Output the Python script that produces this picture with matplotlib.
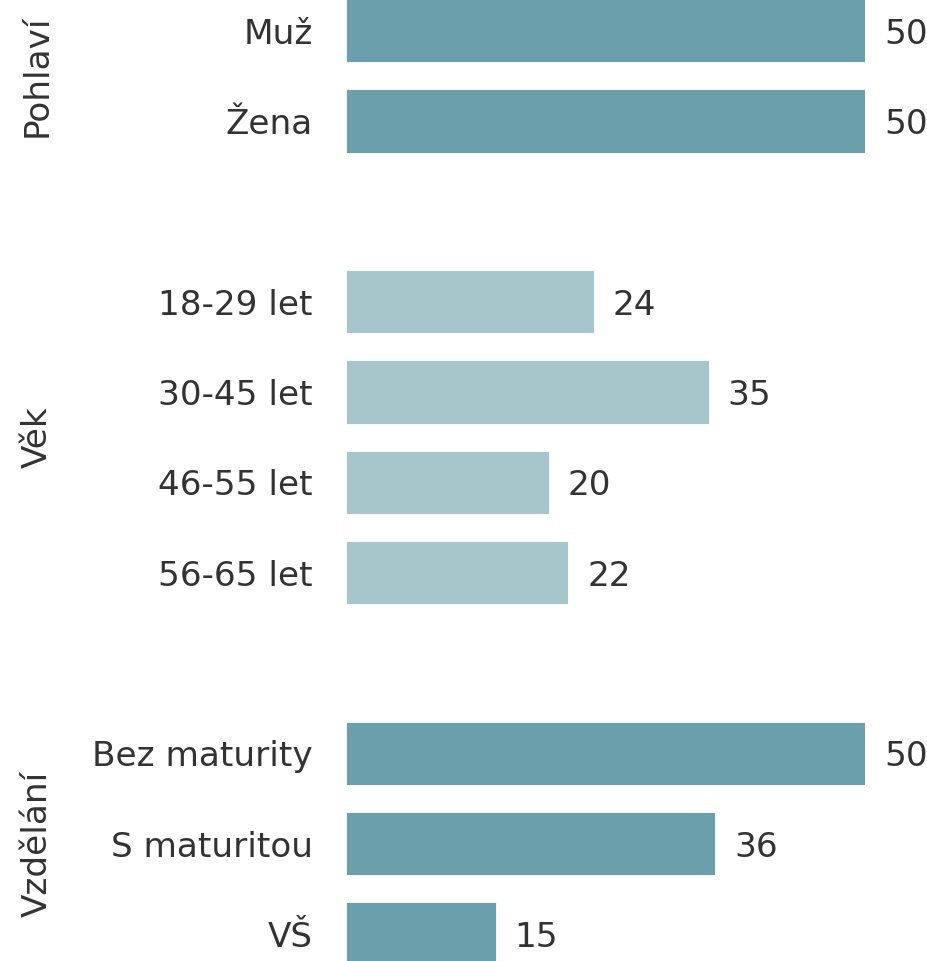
import matplotlib.pyplot as plt
import matplotlib.transforms as mtransforms


categories = ["Muž", "Žena",
              "18-29 let", "30-45 let", "46-55 let", "56-65 let",
              "Bez maturity", "S maturitou", "VŠ"]
values = [50, 50, 23.9, 34.95, 19.5, 21.4, 50, 35.55, 14.4]
value_labels = ["50", "50", "24", "35", "20", "22", "50", "36", "15"]
groups = ["Pohlaví", "Věk", "Vzdělání"]
group_sizes = [2, 4, 3]

dark = "#6a9fac"
light = "#a7c6cc"
group_colors = [dark, light, dark]
text_color = "#333333"
fs = 24.7

# row positions, one empty slot between groups
positions = []
colors = []
group_centers = []
pos = 0
for size, col in zip(group_sizes, group_colors):
    rows = list(range(pos, pos + size))
    positions += rows
    colors += [col] * size
    group_centers.append((rows[0] + rows[-1]) / 2)
    pos += size + 1

fig = plt.figure(figsize=(9.28, 9.61), dpi=100)
ax = fig.add_axes([346 / 928, 0, (865.3 - 346) / 928, 1])

ax.barh(positions, values, height=0.7, color=colors, edgecolor="white", linewidth=0.6)
ax.set_xlim(0, 50)
ax.set_ylim(10.30, -0.341)

ax.set_yticks(positions)
ax.set_yticklabels(categories, fontsize=fs, color=text_color)
ax.tick_params(axis="y", length=0, pad=24)
ax.set_xticks([])
for s in ax.spines.values():
    s.set_visible(False)

for y, v, lab in zip(positions, values, value_labels):
    ax.annotate(lab, (v, y), xytext=(13.5, 0), textcoords="offset points",
                va="center_baseline", ha="left", fontsize=fs, color=text_color,
                annotation_clip=False)

trans = mtransforms.blended_transform_factory(fig.transFigure, ax.transData)
for g, c in zip(groups, group_centers):
    fig.text(21 / 928, c, g, transform=trans, rotation=90, ha="left", va="center",
             fontsize=fs, color=text_color)

fig.savefig("out.png", dpi=100)
